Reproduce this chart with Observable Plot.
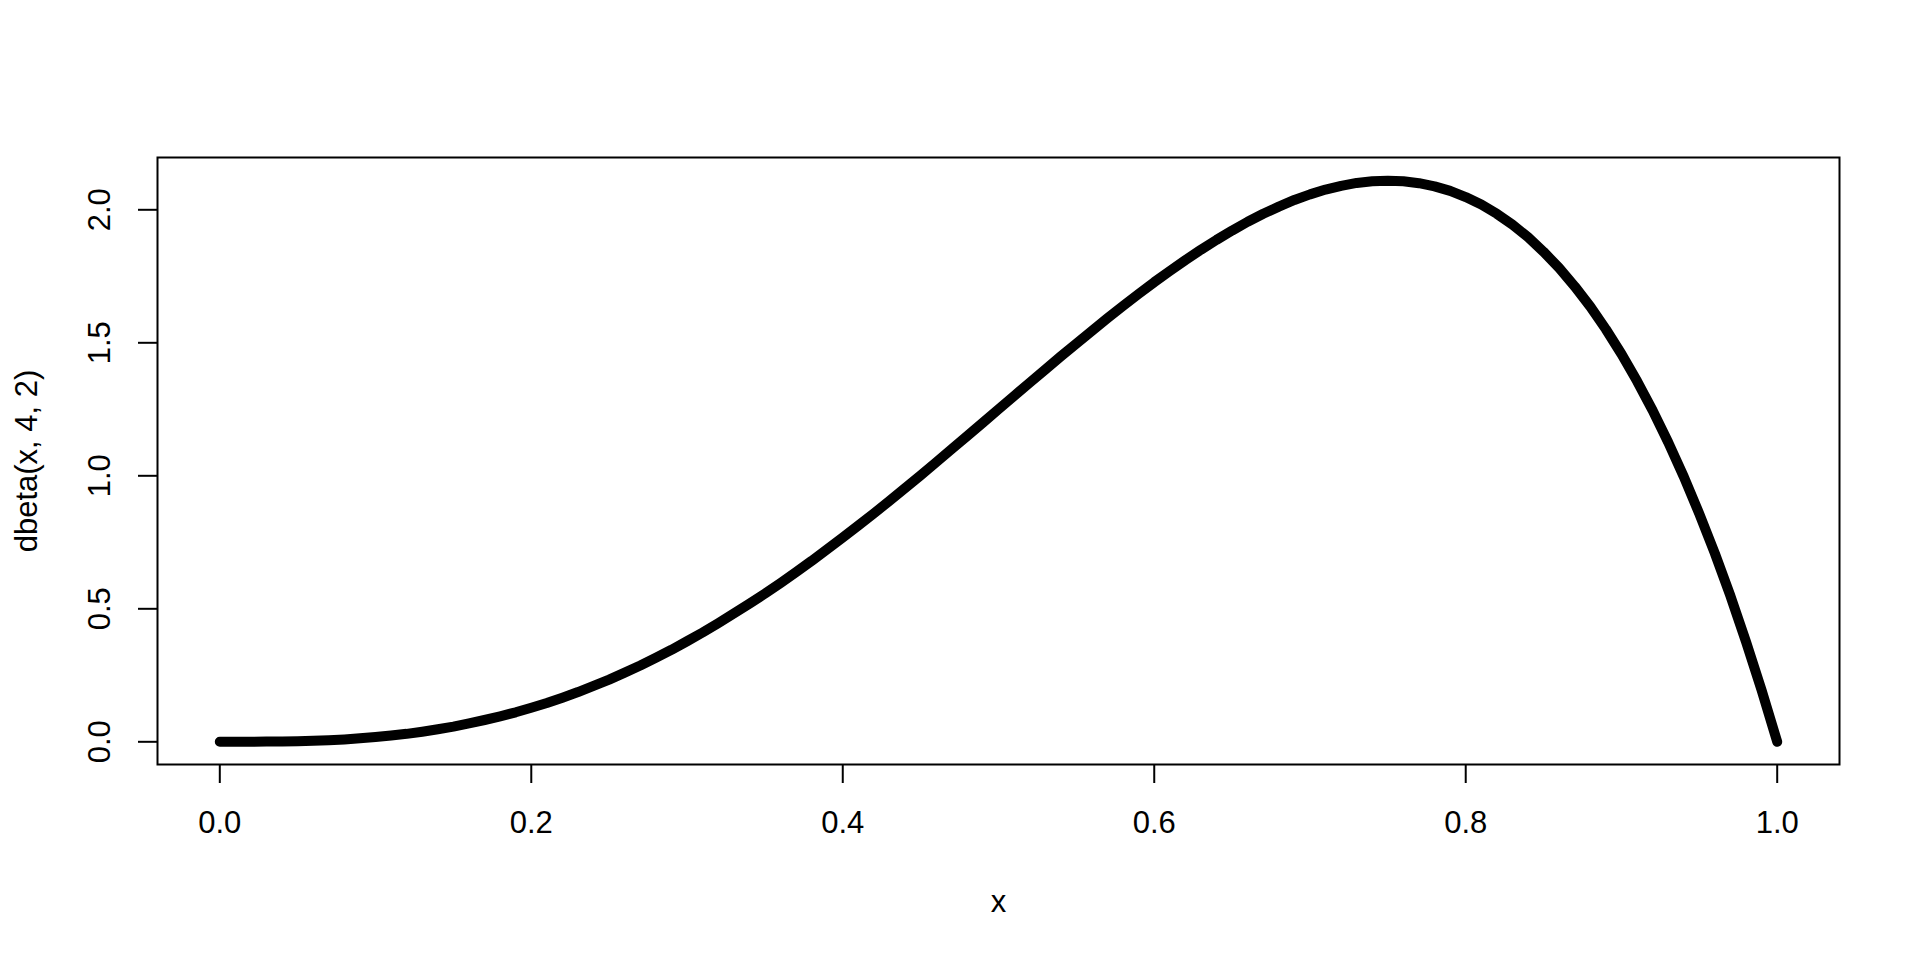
<!DOCTYPE html>
<html>
<head>
<meta charset="utf-8">
<script src="https://cdn.jsdelivr.net/npm/d3@7"></script>
<script src="https://cdn.jsdelivr.net/npm/@observablehq/plot@0.6"></script>
<style>
  html, body { margin: 0; padding: 0; background: #fff; }
  #chart svg { display: block; }
</style>
</head>
<body>
<div id="chart"></div>
<script>
// Curve values (x step 0.01)
const xs = [0, 0.01, 0.02, 0.03, 0.04, 0.05, 0.06, 0.07, 0.08, 0.09,
  0.10, 0.11, 0.12, 0.13, 0.14, 0.15, 0.16, 0.17, 0.18, 0.19,
  0.20, 0.21, 0.22, 0.23, 0.24, 0.25, 0.26, 0.27, 0.28, 0.29,
  0.30, 0.31, 0.32, 0.33, 0.34, 0.35, 0.36, 0.37, 0.38, 0.39,
  0.40, 0.41, 0.42, 0.43, 0.44, 0.45, 0.46, 0.47, 0.48, 0.49,
  0.50, 0.51, 0.52, 0.53, 0.54, 0.55, 0.56, 0.57, 0.58, 0.59,
  0.60, 0.61, 0.62, 0.63, 0.64, 0.65, 0.66, 0.67, 0.68, 0.69,
  0.70, 0.71, 0.72, 0.73, 0.74, 0.75, 0.76, 0.77, 0.78, 0.79,
  0.80, 0.81, 0.82, 0.83, 0.84, 0.85, 0.86, 0.87, 0.88, 0.89,
  0.90, 0.91, 0.92, 0.93, 0.94, 0.95, 0.96, 0.97, 0.98, 0.99, 1.00];
const ys = [0, 0.000, 0.000, 0.001, 0.001, 0.002, 0.004, 0.006, 0.009, 0.013,
  0.018, 0.024, 0.030, 0.038, 0.047, 0.057, 0.069, 0.082, 0.096, 0.111,
  0.128, 0.146, 0.166, 0.187, 0.210, 0.234, 0.260, 0.287, 0.316, 0.346,
  0.378, 0.411, 0.446, 0.482, 0.519, 0.557, 0.597, 0.638, 0.680, 0.724,
  0.768, 0.813, 0.859, 0.906, 0.954, 1.002, 1.051, 1.101, 1.150, 1.200,
  1.250, 1.300, 1.350, 1.399, 1.449, 1.497, 1.545, 1.593, 1.639, 1.684,
  1.728, 1.770, 1.811, 1.850, 1.887, 1.922, 1.955, 1.985, 2.012, 2.037,
  2.058, 2.076, 2.090, 2.101, 2.107, 2.109, 2.107, 2.100, 2.088, 2.071,
  2.048, 2.020, 1.985, 1.944, 1.897, 1.842, 1.781, 1.712, 1.636, 1.551,
  1.458, 1.356, 1.246, 1.126, 0.997, 0.857, 0.708, 0.548, 0.376, 0.194, 0];
const xTicks = [0, 0.2, 0.4, 0.6, 0.8, 1.0];
const yTicks = [0, 0.5, 1.0, 1.5, 2.0];
const xTitle = "x";
const yTitle = "dbeta(x, 4, 2)";

const data = xs.map((x, i) => ({x, y: ys[i]}));
const font = "'Liberation Sans', Arial, sans-serif";
const fs = 31;

const chart = Plot.plot({
  width: 1920,
  height: 960,
  marginLeft: 157,
  marginRight: 81,
  marginTop: 157,
  marginBottom: 196,
  style: {fontFamily: font, background: "#fff", color: "#000"},
  x: {domain: [-0.04, 1.04]},
  y: {domain: [-0.0853, 2.1966]},
  marks: [
    Plot.frame({stroke: "#000", strokeWidth: 2}),
    Plot.axisX(xTicks, {tickSize: 19, strokeWidth: 2, tickFormat: () => "", label: null}),
    Plot.axisY(yTicks, {tickSize: 19, strokeWidth: 2, tickFormat: () => "", label: null}),
    Plot.text(xTicks, {x: d => d, text: d => d.toFixed(1), frameAnchor: "bottom", dy: 59,
      lineAnchor: "middle", fontSize: fs, fill: "#000"}),
    Plot.text(yTicks, {y: d => d, text: d => d.toFixed(1), frameAnchor: "left", dx: -57,
      rotate: -90, lineAnchor: "middle", textAnchor: "middle", fontSize: fs, fill: "#000"}),
    Plot.text([xTitle], {text: d => d, frameAnchor: "bottom", dy: 138, lineAnchor: "middle",
      fontSize: fs, fill: "#000"}),
    Plot.text([yTitle], {text: d => d, frameAnchor: "left", dx: -130, rotate: -90,
      lineAnchor: "middle", textAnchor: "middle", fontSize: fs, fill: "#000"}),
    Plot.line(data, {x: "x", y: "y", stroke: "#000", strokeWidth: 10,
      strokeLinecap: "round", strokeLinejoin: "round"})
  ]
});
document.getElementById("chart").appendChild(chart);
</script>
</body>
</html>
